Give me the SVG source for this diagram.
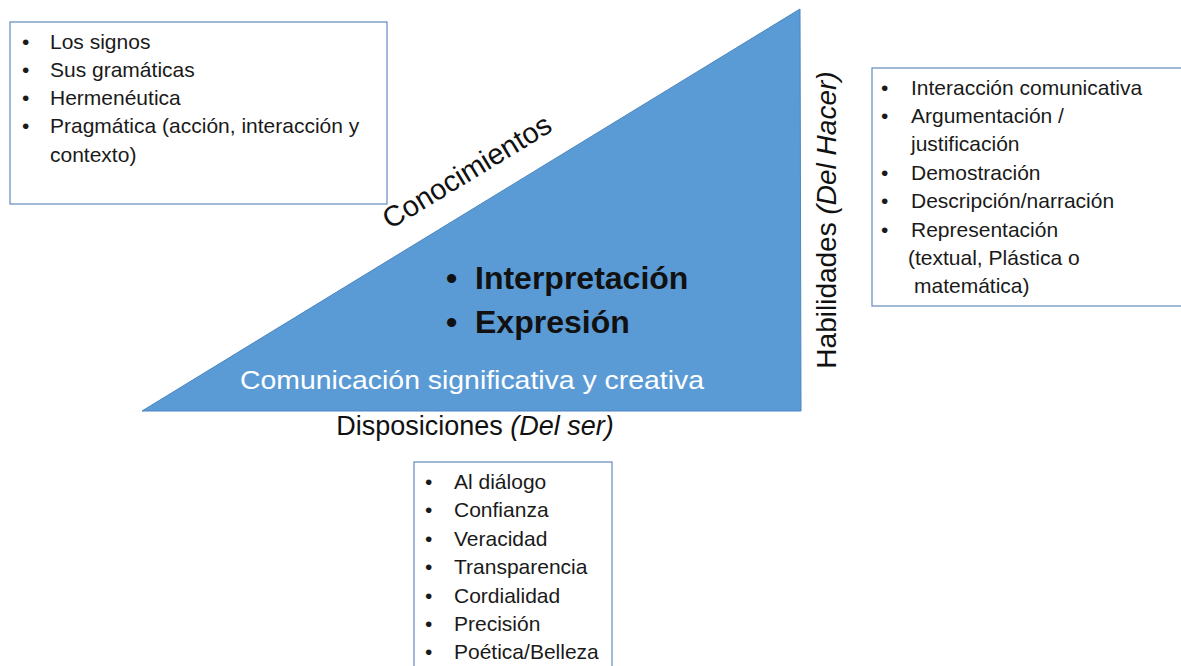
<svg xmlns="http://www.w3.org/2000/svg" width="1181" height="666" viewBox="0 0 1181 666">
<style>
.box{fill:#ffffff;stroke:#6f93c4;stroke-width:1.3}
.t{font-family:"Liberation Sans",Arial,sans-serif;font-size:21px;fill:#1a1a1a}
.lbl{font-family:"Liberation Sans",Arial,sans-serif;fill:#111111}
.b{font-family:"Liberation Sans",Arial,sans-serif;font-size:32px;font-weight:bold;fill:#111111}
</style>
<rect width="1181" height="666" fill="#ffffff"/>
<g id="triangle">
<polygon points="142,411 800,9 801,411" fill="#5b9bd5" stroke="#4a86c0" stroke-width="1"/>
<text class="b" x="446" y="289">•</text>
<text class="b" x="475" y="289">Interpretación</text>
<text class="b" x="446" y="333">•</text>
<text class="b" x="475" y="333">Expresión</text>
<text x="240" y="389" font-family="Liberation Sans, Arial, sans-serif" font-size="26" fill="#ffffff" textLength="464" lengthAdjust="spacingAndGlyphs">Comunicación significativa y creativa</text>
</g>
<g id="label-conocimientos">
<text class="lbl" x="472" y="180" font-size="29" text-anchor="middle" transform="rotate(-31.3 472 180)">Conocimientos</text>
</g>
<g id="label-habilidades">
<text class="lbl" font-size="28" text-anchor="middle" transform="translate(836 220) rotate(-90)">Habilidades <tspan font-style="italic">(Del Hacer)</tspan></text>
</g>
<g id="label-disposiciones">
<text class="lbl" x="475" y="435" font-size="27" text-anchor="middle">Disposiciones <tspan font-style="italic">(Del ser)</tspan></text>
</g>
<g id="box-conocimientos">
<rect class="box" x="10" y="22" width="377" height="182"/>
<text class="t" x="22" y="49">•</text><text class="t" x="50" y="49">Los signos</text>
<text class="t" x="22" y="77">•</text><text class="t" x="50" y="77">Sus gramáticas</text>
<text class="t" x="22" y="105">•</text><text class="t" x="50" y="105">Hermenéutica</text>
<text class="t" x="22" y="133">•</text><text class="t" x="50" y="133">Pragmática (acción, interacción y</text>
<text class="t" x="50" y="162">contexto)</text>
</g>
<g id="box-habilidades">
<rect class="box" x="872" y="68" width="330" height="238"/>
<text class="t" x="881" y="95">•</text><text class="t" x="911" y="95">Interacción comunicativa</text>
<text class="t" x="881" y="123">•</text><text class="t" x="911" y="123">Argumentación /</text>
<text class="t" x="911" y="151">justificación</text>
<text class="t" x="881" y="180">•</text><text class="t" x="911" y="180">Demostración</text>
<text class="t" x="881" y="208">•</text><text class="t" x="911" y="208">Descripción/narración</text>
<text class="t" x="881" y="237">•</text><text class="t" x="911" y="237">Representación</text>
<text class="t" x="908" y="265">(textual, Plástica o</text>
<text class="t" x="914" y="293">matemática)</text>
</g>
<g id="box-disposiciones">
<rect class="box" x="414" y="462" width="198" height="220"/>
<text class="t" x="425" y="489">•</text><text class="t" x="454" y="489">Al diálogo</text>
<text class="t" x="425" y="517">•</text><text class="t" x="454" y="517">Confianza</text>
<text class="t" x="425" y="546">•</text><text class="t" x="454" y="546">Veracidad</text>
<text class="t" x="425" y="574">•</text><text class="t" x="454" y="574">Transparencia</text>
<text class="t" x="425" y="603">•</text><text class="t" x="454" y="603">Cordialidad</text>
<text class="t" x="425" y="631">•</text><text class="t" x="454" y="631">Precisión</text>
<text class="t" x="425" y="659">•</text><text class="t" x="454" y="659">Poética/Belleza</text>
</g>
<g id="connectors"></g>
</svg>
